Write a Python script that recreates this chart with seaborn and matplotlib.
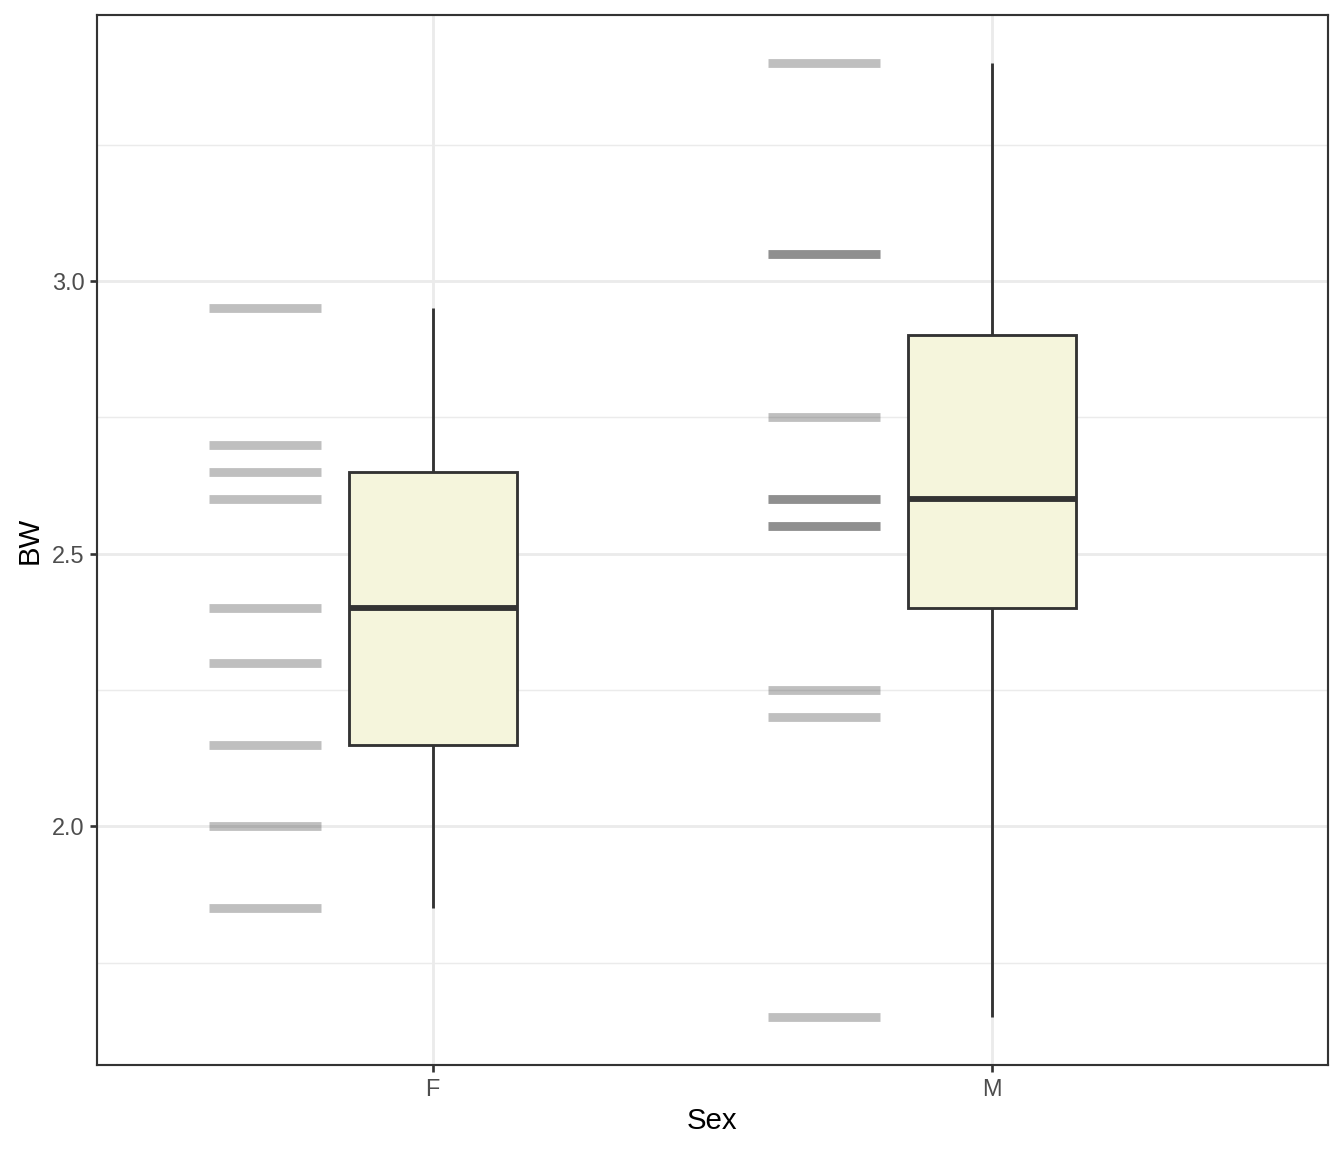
import numpy as np
import pandas as pd
import matplotlib
matplotlib.use("Agg")
import matplotlib.pyplot as plt
import seaborn as sns

# body weights (duplicates show as darker dashes)
bw_f = [1.85, 2.00, 2.15, 2.30, 2.40, 2.60, 2.65, 2.70, 2.95]
bw_m = [1.65, 2.20, 2.25, 2.55, 2.55, 2.60, 2.60, 2.75, 3.05, 3.05, 3.40]
sexes = ["F", "M"]

df = pd.DataFrame({
    "Sex": ["F"] * len(bw_f) + ["M"] * len(bw_m),
    "BW": bw_f + bw_m,
})

sns.set_theme(style="white")
plt.rcParams["font.family"] = ["Liberation Sans", "DejaVu Sans"]

fig = plt.figure(figsize=(7, 6), dpi=192)
ax = fig.add_axes([97 / 1344, 1 - 1065 / 1152, (1328 - 97) / 1344, (1065 - 15) / 1152])

# grid like theme_bw
for y in [1.75, 2.25, 2.75, 3.25]:
    ax.axhline(y, color="#ebebeb", lw=0.53, zorder=0)
for y in [2.0, 2.5, 3.0]:
    ax.axhline(y, color="#ebebeb", lw=1.07, zorder=0)
for i in range(len(sexes)):
    ax.axvline(i, color="#ebebeb", lw=1.07, zorder=0)

# rug-style dashes to the left of each box
for i, s in enumerate(sexes):
    vals = df.loc[df["Sex"] == s, "BW"]
    ax.hlines(vals, i - 0.4, i - 0.2, color="black", alpha=0.25, lw=3.3, zorder=2)

sns.boxplot(data=df, x="Sex", y="BW", order=sexes, ax=ax, width=0.3,
            color="#F5F5DC", saturation=1, linecolor="#333333", linewidth=1.07,
            whis=(0, 100), showfliers=False, showcaps=False,
            medianprops={"linewidth": 2.2, "color": "#333333"}, zorder=3)

ax.set_xlim(-0.6, 1.6)
ax.set_ylim(1.5625, 3.4875)
ax.set_yticks([2.0, 2.5, 3.0])
ax.set_yticklabels(["2.0", "2.5", "3.0"])
ax.tick_params(axis="both", length=2.75, width=1.0, color="#333333",
               labelcolor="#4d4d4d", labelsize=8.8, pad=2, left=True, bottom=True)
for sp in ax.spines.values():
    sp.set_color("#333333")
    sp.set_linewidth(0.8)
ax.set_xlabel("Sex", fontsize=11, color="black", labelpad=2.5)
ax.set_ylabel("BW", fontsize=11, color="black", labelpad=3)

fig.savefig("out.png", dpi=192)
